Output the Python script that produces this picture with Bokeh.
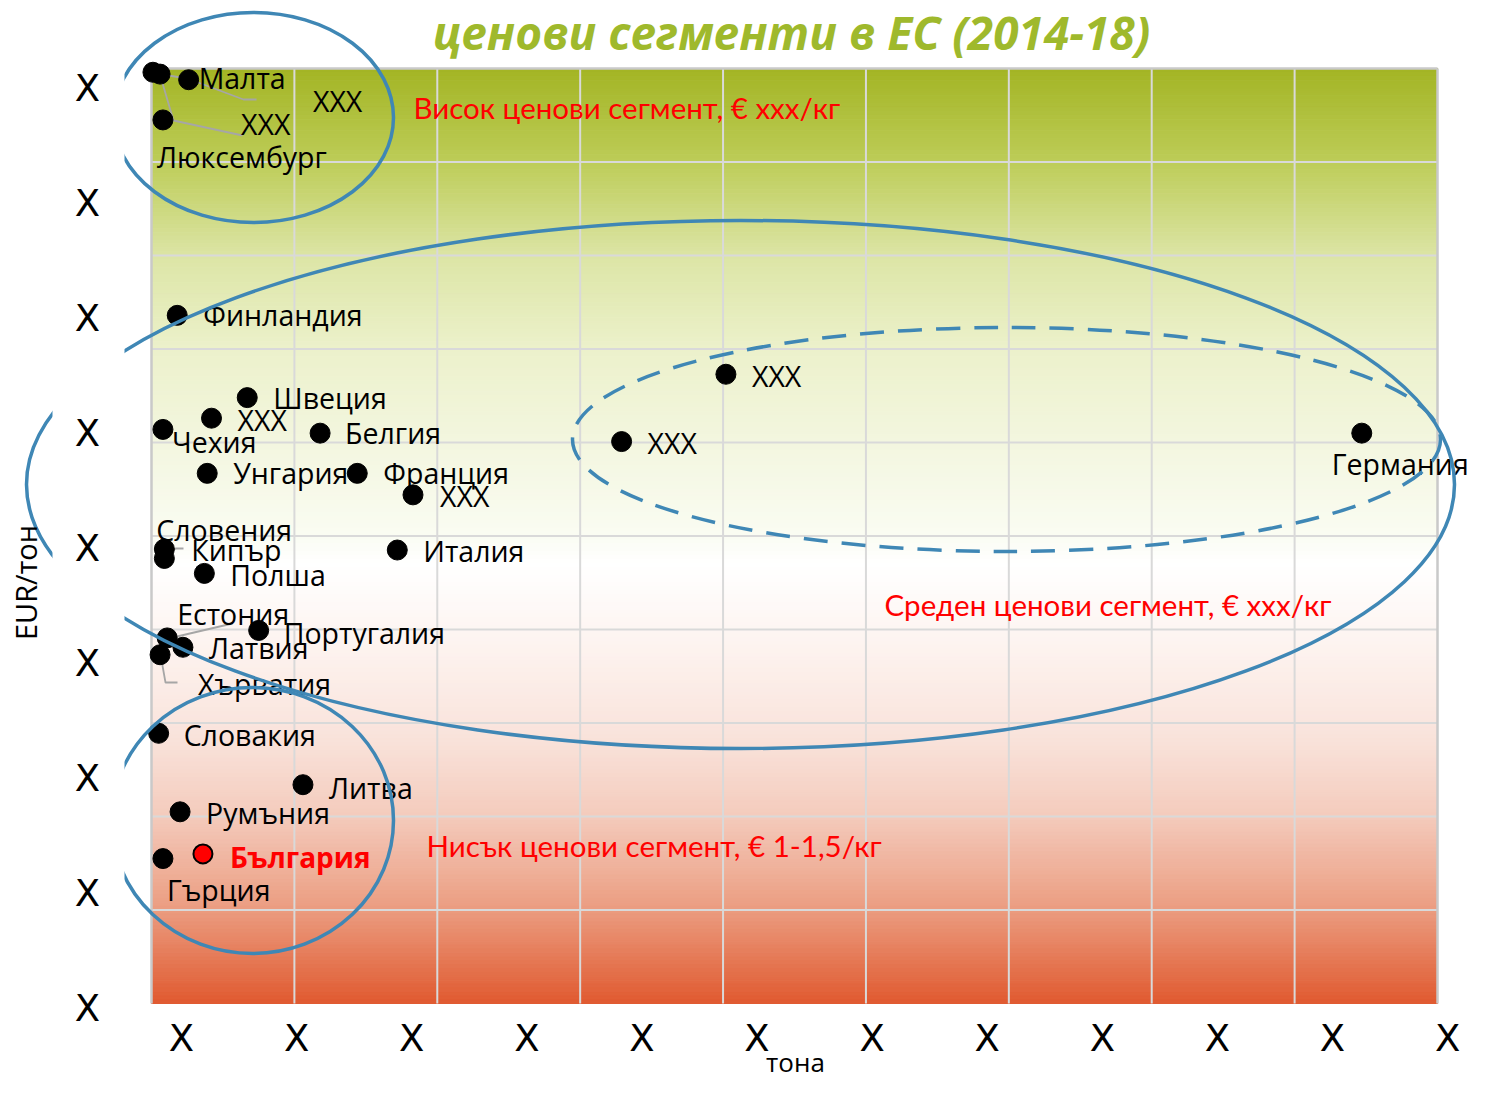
import numpy as np
from bokeh.plotting import figure
from bokeh.models import Range1d, Label, ColumnDataSource
from bokeh.embed import file_html
from bokeh.resources import INLINE
from bokeh.core.properties import value

# ---------------- data ----------------
countries = ["XXX", "XXX", "Малта", "Люксембург", "Финландия", "Швеция", "XXX", "Чехия",
             "Белгия", "Унгария", "Франция", "XXX", "XXX", "XXX", "Германия", "Словения",
             "Кипър", "Полша", "Италия", "Португалия", "Естония", "Латвия", "Хърватия",
             "Словакия", "Литва", "Румъния", "Гърция", "България"]
# volume, thousand tonnes
volume_kt = [0.1, 0.6, 2.6, 0.8, 1.8, 6.7, 4.2, 0.8,
             11.8, 3.9, 14.4, 18.3, 40.2, 32.9, 84.7, 0.9,
             0.9, 3.7, 17.2, 7.5, 1.1, 2.2, 0.6,
             0.5, 10.6, 2.0, 0.8, 3.6]
# price, EUR per tonne
price_eur_t = [9960, 9940, 9880, 9450, 7360, 6480, 6260, 6140,
               6100, 5670, 5670, 5440, 6730, 6010, 6100, 4860,
               4760, 4600, 4850, 3990, 3910, 3810, 3730,
               2890, 2340, 2050, 1550, 1600]
highlight = "България"

x_grid = [0, 10, 20, 30, 40, 50, 60, 70, 80, 90]
y_grid = [0, 1000, 2000, 3000, 4000, 5000, 6000, 7000, 8000, 9000, 10000]
x_tick_labels = ["X"] * 12
y_tick_labels = ["X"] * 9

title_text = "ценови сегменти в ЕС (2014-18)"
x_title = "тона"
y_title = "EUR/тон"
segment_texts = ["Висок ценови сегмент, € xxx/кг",
                 "Среден ценови сегмент, € xxx/кг",
                 "Нисък ценови сегмент, € 1-1,5/кг"]

# ---------------- layout ----------------
W, H, M = 1477, 1081, 0
PX0, PX1, PY0, PY1 = 151, 1437, 1003, 68
X_MAX, Y_MAX = x_grid[-1], y_grid[-1]
SX = (PX1 - PX0) / X_MAX
SY = (PY0 - PY1) / Y_MAX


def fx(px):
    return (px - PX0) / SX


def fy(py):
    return (PY0 - py) / SY


# label offsets in pixels (dx right, dy down) from each point
label_off = [(160, 29), (81, 50), (10, -2), (-6, 37), (26, 0), (26, 0), (26, 2), (9, 13),
             (25, 0), (26, 0), (26, 0), (27, 1), (26, 2), (26, 1), (-30, 31), (-8, -19),
             (27, -8), (26, 2), (26, 1), (25, 3), (10, -24), (26, 1), (38, 29),
             (25, 2), (26, 3), (26, 1), (4, 31), (27, 3)]

p = figure(width=W, height=H,
           x_range=Range1d(fx(M), fx(M + W)), y_range=Range1d(fy(M + H), fy(M)),
           output_backend="svg", toolbar_location=None,
           x_axis_location=None, y_axis_location=None, min_border=0,
           outline_line_color=None, background_fill_color="white",
           border_fill_color="white")
p.grid.visible = False

# gradient background
stops = [(0.00, "#a3b524"), (0.10, "#bdcc58"), (0.20, "#dce5a5"), (0.30, "#ecf1cb"),
         (0.40, "#f3f6df"), (0.50, "#fafcf2"), (0.53, "#ffffff"), (0.62, "#fdf3ef"),
         (0.72, "#f9e2da"), (0.80, "#f4cbbc"), (0.90, "#eb9c80"), (1.00, "#e05a30")]


def h2r(h):
    return np.array([int(h[i:i + 2], 16) for i in (1, 3, 5)], dtype=float)


def grad(f):
    for (f0, c0), (f1, c1) in zip(stops[:-1], stops[1:]):
        if f0 <= f <= f1:
            t = (f - f0) / (f1 - f0)
            c = h2r(c0) * (1 - t) + h2r(c1) * t
            return "#%02x%02x%02x" % tuple(int(round(v)) for v in c)
    return stops[-1][1]


N = 240
edges = np.linspace(Y_MAX, 0, N + 1)
cols = [grad((i + 0.5) / N) for i in range(N)]
p.quad(left=0, right=X_MAX, top=edges[:-1], bottom=edges[1:], fill_color=cols,
       line_color=cols, line_width=1)

# grid lines
vx = x_grid[1:-1]
p.segment(x0=vx, y0=[0] * len(vx), x1=vx, y1=[Y_MAX] * len(vx), line_color="#d9d9d9", line_width=2)
hy = y_grid[1:-1]
p.segment(x0=[0] * len(hy), y0=hy, x1=[X_MAX] * len(hy), y1=hy, line_color="#d9d9d9", line_width=2)
p.segment(x0=[0, X_MAX, 0], y0=[0, 0, Y_MAX], x1=[0, X_MAX, X_MAX], y1=[Y_MAX, Y_MAX, Y_MAX],
          line_color="#c9c9c9", line_width=2.5)

# leader lines (pixel paths)
leaders = [[(155, 73), (187, 78), (243, 99), (256, 99)],
           [(160, 76), (173, 120), (242, 135)],
           [(165, 557), (175, 548), (183, 548)],
           [(168, 638), (232, 623)],
           [(160, 654), (165, 682), (177, 682)]]
p.multi_line(xs=[[fx(a) for a, b in L] for L in leaders],
             ys=[[fy(b) for a, b in L] for L in leaders],
             line_color="#a6a6a6", line_width=1.8)

# points
normal = [i for i, c in enumerate(countries) if c != highlight]
hl = [i for i, c in enumerate(countries) if c == highlight]


def src_for(idx):
    return ColumnDataSource(dict(
        x=[volume_kt[i] for i in idx], y=[price_eur_t[i] for i in idx],
        lx=[volume_kt[i] + label_off[i][0] / SX for i in idx],
        ly=[price_eur_t[i] - label_off[i][1] / SY for i in idx],
        name=[countries[i] for i in idx]))


src_n, src_h = src_for(normal), src_for(hl)

p.scatter("x", "y", source=src_n, size=20, fill_color="black", line_color="black")
p.scatter("x", "y", source=src_h, size=19, fill_color="#ff0000", line_color="black", line_width=2)

p.text("lx", "ly", text="name", source=src_n, text_font=value("Open Sans"),
       text_font_size="28.5px", text_color="black", text_align="left", text_baseline="middle")
p.text("lx", "ly", text="name", source=src_h, text_font=value("Open Sans"),
       text_font_size="28px", text_font_style="bold", text_color="#ff0000",
       text_align="left", text_baseline="middle")

# segment ellipses (pixel geometry)
BLUE = "#3f87b5"
ell = [(253, 117, 280, 210, "solid"), (740, 484, 1428, 528, "solid"),
       (1006, 439, 868, 224, "24 14"), (252, 820, 282, 266, "solid")]
for cx, cy, w, h, dash in ell:
    p.ellipse(x=[fx(cx)], y=[fy(cy)], width=[w / SX], height=[h / SY], fill_alpha=0,
              line_color=BLUE, line_width=3.5, line_dash=dash)

# white mask over the left band
p.quad(left=fx(52), right=fx(124), top=fy(-10), bottom=fy(1100), fill_color="white", line_color=None)

# tick labels
ytk_y = [88 + 115 * i for i in range(len(y_tick_labels))]
p.text(x=[fx(87)] * len(y_tick_labels), y=[fy(v) for v in ytk_y], text=y_tick_labels,
       text_font=value("DejaVu Sans"), text_font_size="37px", text_color="black",
       text_align="center", text_baseline="middle")
xtk_x = [181 + 115.1 * i for i in range(len(x_tick_labels))]
p.text(x=[fx(v) for v in xtk_x], y=[fy(1038)] * len(x_tick_labels), text=x_tick_labels,
       text_font=value("DejaVu Sans"), text_font_size="37px", text_color="black",
       text_align="center", text_baseline="middle")

# titles
p.add_layout(Label(x=fx(791), y=fy(31), text=title_text, text_align="center",
                   text_baseline="middle", text_font="Open Sans", text_font_style="bold italic",
                   text_font_size="46px", text_color="#9fb92c"))
p.add_layout(Label(x=fx(795), y=fy(1061), text=x_title, text_align="center",
                   text_baseline="middle", text_font="Open Sans", text_font_size="26px",
                   text_color="black"))
p.add_layout(Label(x=fx(25), y=fy(582), text=y_title, text_align="center",
                   text_baseline="middle", text_font="Open Sans", text_font_size="29px",
                   text_color="black", angle=np.pi / 2))

seg_pos = [(413, 107), (884, 604), (426, 845)]
for (lx, ly), t in zip(seg_pos, segment_texts):
    p.add_layout(Label(x=fx(lx), y=fy(ly), text=t, text_align="left", text_baseline="middle",
                       text_font="Lato", text_font_size="29.5px", text_color="#ff0000"))

open("out.html", "w").write(file_html(p, INLINE))
